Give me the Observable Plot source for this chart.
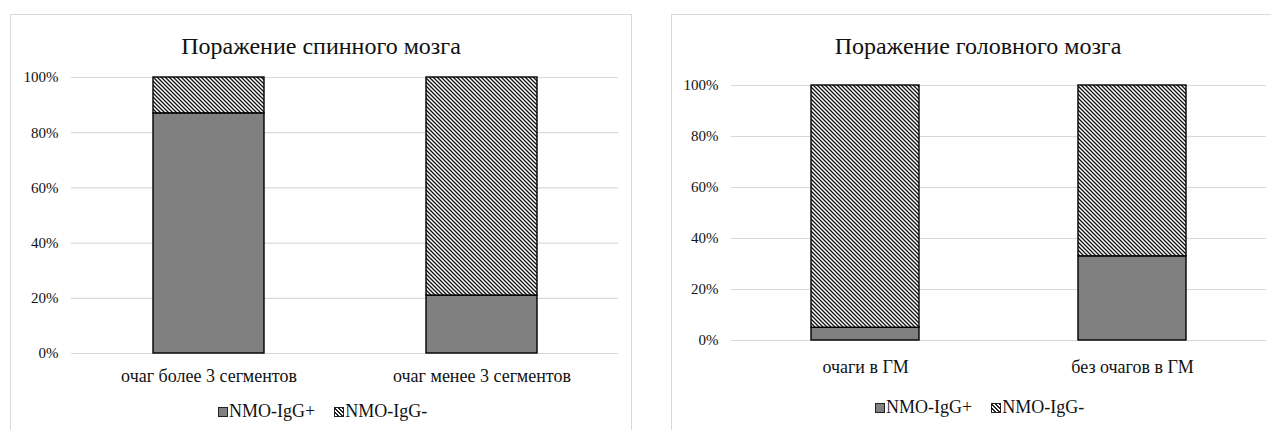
<!DOCTYPE html>
<html>
<head>
<meta charset="utf-8">
<script src="https://cdn.jsdelivr.net/npm/d3@7"></script>
<script src="https://cdn.jsdelivr.net/npm/@observablehq/plot@0.6"></script>
<style>
  html, body { margin: 0; padding: 0; background: #fff; }
  #wrap { position: relative; width: 1271px; height: 430px; overflow: hidden; font-family: "Liberation Serif", "Times New Roman", serif; color: #111; }
  .frame { position: absolute; border: 1.5px solid #d9d9d9; box-sizing: border-box; }
  .title { position: absolute; text-align: center; font-size: 24px; line-height: 24px; white-space: nowrap; color: #111; }
  .legend { position: absolute; font-size: 18px; line-height: 18px; white-space: nowrap; color: #111; }
  .legend .sw { display: inline-block; width: 10px; height: 10px; box-sizing: border-box; border: 1px solid #222; vertical-align: baseline; margin-right: 1px; }
  .legend .item + .item { margin-left: 19px; }
  .plot { position: absolute; top: 0; }
  svg.plot text { font-family: "Liberation Serif", "Times New Roman", serif; }
  svg.plot [aria-label="y-axis tick label"] { font-size: 15px; }
  svg.plot [aria-label="x-axis tick label"] { font-size: 18px; }
</style>
</head>
<body>
<div id="wrap"></div>
<script>
// ---- data ----
const series = ["NMO-IgG+", "NMO-IgG-"];
const titleL = "Поражение спинного мозга";
const catsL = ["очаг более 3 сегментов", "очаг менее 3 сегментов"];
const posL = [87, 21];
const negL = [13, 79];
const titleR = "Поражение головного мозга";
const catsR = ["очаги в ГМ", "без очагов в ГМ"];
const posR = [5, 33];
const negR = [95, 67];
const yTicks = [0, 20, 40, 60, 80, 100];

const wrap = document.getElementById("wrap");
const SERIF = "'Liberation Serif', 'Times New Roman', serif";

function rows(cats, pos, neg) {
  const out = [];
  cats.forEach((c, i) => {
    out.push({cat: c, series: series[0], value: pos[i]});
    out.push({cat: c, series: series[1], value: neg[i]});
  });
  return out;
}

function makeChart(cats, pos, neg, patId, o) {
  const data = rows(cats, pos, neg);
  const svg = Plot.plot({
    width: o.width, height: o.height,
    marginLeft: o.ml, marginRight: o.mr, marginTop: o.mt, marginBottom: o.mb,
    style: `font-family: ${SERIF}; color: #111; background: transparent;`,
    x: {domain: cats, paddingInner: 0.594, paddingOuter: 0.297, label: null, axis: null},
    y: {domain: [0, 100], label: null, axis: null},
    color: {type: "identity"},
    marks: [
      Plot.gridY(yTicks, {stroke: "#d9d9d9", strokeOpacity: 1, strokeWidth: 1.2}),
      Plot.axisY(yTicks, {tickSize: 0, tickPadding: 13, fontSize: 15, fontFamily: SERIF, tickFormat: d => d + "%", label: null}),
      Plot.axisX({tickSize: 0, tickPadding: o.xpad, fontSize: 18, fontFamily: SERIF, label: null}),
      Plot.barY(data, Plot.stackY({
        x: "cat", y: "value",
        fill: d => d.series === series[0] ? "#808080" : `url(#${patId})`,
        stroke: "#000", strokeWidth: 1.4
      }))
    ]
  });
  const defs = d3.select(svg).insert("defs", ":first-child");
  const p = defs.append("pattern").attr("id", patId)
    .attr("patternUnits", "userSpaceOnUse").attr("width", 4).attr("height", 4);
  p.append("rect").attr("width", 4).attr("height", 4).attr("fill", "#fff");
  p.append("path").attr("d", "M-1,-1L5,5M3,-1L5,1M-1,3L1,5")
    .attr("stroke", "#111").attr("stroke-width", 1.3);
  svg.classList.add("plot");
  svg.style.left = o.left + "px";
  return svg;
}

function addFrame(left, top, width, height) {
  const f = document.createElement("div");
  f.className = "frame";
  Object.assign(f.style, {left: left + "px", top: top + "px", width: width + "px", height: height + "px"});
  wrap.appendChild(f);
}

function addTitle(text, left, width, top) {
  const t = document.createElement("div");
  t.className = "title";
  t.textContent = text;
  Object.assign(t.style, {left: left + "px", width: width + "px", top: top + "px"});
  wrap.appendChild(t);
}

function addLegend(left, top) {
  const l = document.createElement("div");
  l.className = "legend";
  Object.assign(l.style, {left: left + "px", top: top + "px"});
  series.forEach((s, i) => {
    const it = document.createElement("span");
    it.className = "item";
    const sw = document.createElement("span");
    sw.className = "sw";
    if (i === 0) sw.style.background = "#808080";
    else sw.style.background = "repeating-linear-gradient(45deg, #fff 0px, #fff 1.6px, #222 1.6px, #222 3px)";
    it.appendChild(sw);
    it.appendChild(document.createTextNode(s));
    l.appendChild(it);
  });
  wrap.appendChild(l);
}

addFrame(10, 14, 622, 440);
addFrame(671, 14, 640, 440);

wrap.appendChild(makeChart(catsL, posL, negL, "hatchL",
  {left: 0, width: 640, height: 390, ml: 71, mr: 22, mt: 77, mb: 37, xpad: 16}));
wrap.appendChild(makeChart(catsR, posR, negR, "hatchR",
  {left: 640, width: 631, height: 380, ml: 91, mr: 5, mt: 85, mb: 40, xpad: 20}));

addTitle(titleL, 10, 622, 34);
addTitle(titleR, 671, 614, 34);
addLegend(218, 402);
addLegend(875, 398);
</script>
</body>
</html>
